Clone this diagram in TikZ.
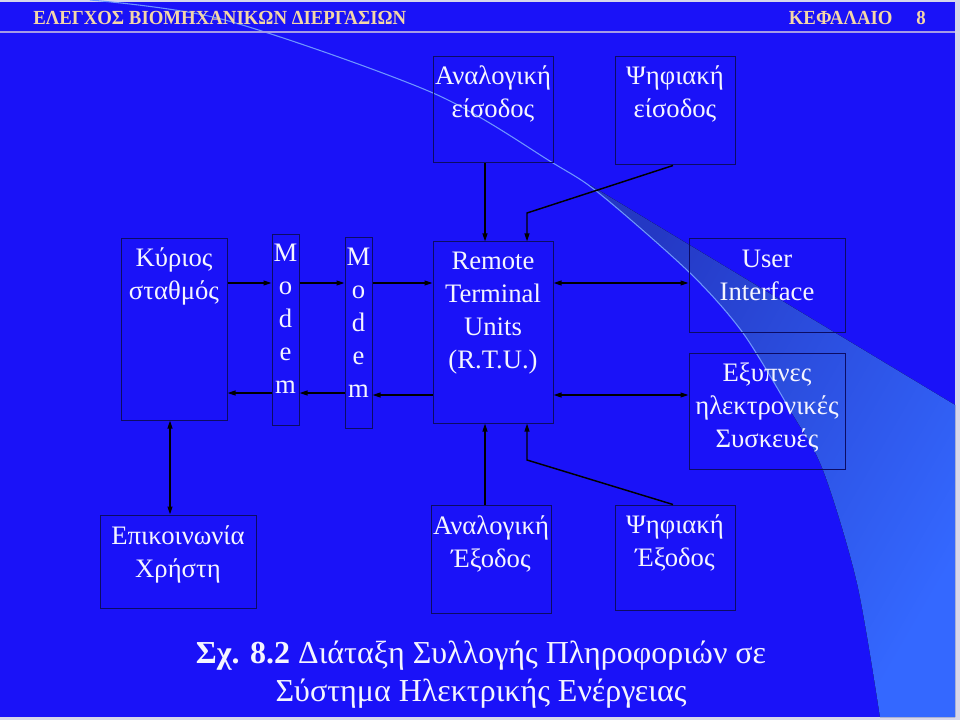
\documentclass[tikz,border=0pt]{standalone}
\usepackage{fontspec}
\setmainfont{Liberation Serif}
\usepackage{graphicx}
\usetikzlibrary{fit,arrows.meta,calc}
\definecolor{bg}{RGB}{26,18,248}
\definecolor{sw}{RGB}{52,104,255}
\definecolor{swd}{RGB}{36,56,196}
\definecolor{swline}{RGB}{110,150,255}
\definecolor{hdr}{RGB}{244,214,168}
\definecolor{hline}{RGB}{165,155,230}
\definecolor{bord}{RGB}{12,12,100}
\definecolor{txt}{RGB}{245,245,255}
\definecolor{frm}{RGB}{215,215,235}
\begin{document}
\begin{tikzpicture}[x=0.75pt,y=-0.75pt,
  box/.style={draw=bord,line width=0.75pt,inner sep=0pt},
  lbl/.style={text=txt,font=\fontsize{20}{24.8}\selectfont,align=center,anchor=north,inner sep=0pt},
  arr/.style={line width=1.1pt,black,-{Triangle[length=6pt,width=3.6pt]}},
  darr/.style={line width=1.1pt,black,{Triangle[length=6pt,width=3.6pt]}-{Triangle[length=6pt,width=3.6pt]}},
  hdrtxt/.style={text=hdr,font=\fontsize{15}{17}\selectfont\bfseries,inner sep=0pt},
  captxt/.style={text=txt,font=\fontsize{24}{28.8}\selectfont,inner sep=0pt,anchor=base}]
\useasboundingbox (0,0) rectangle (960,720);
% background
\fill[frm] (0,0) rectangle (960,720);
\fill[bg] (0,2) rectangle (955,717);
% swoosh
\fill[left color=swd,right color=sw,shading angle=60] (590,185) -- (955,405) -- (955,717) -- plot[smooth] coordinates {(880,717) (857,583) (823,470) (790,410) (743,333) (690,273) (590,185)} -- cycle;
\draw[swline,line width=0.8pt] plot[smooth] coordinates {(90,0) (225,20) (433,93) (553,163) (600,194) (690,273) (743,333) (790,410)};
% header
\draw[hline,line width=1.5pt] (0,32) -- (955,32);
\node[hdrtxt,anchor=base west] (h1) at (33,25) {\scalebox{0.94}[1]{ΕΛΕΓΧΟΣ ΒΙΟΜΗΧΑΝΙΚΩΝ ΔΙΕΡΓΑΣΙΩΝ}};
\node[hdrtxt,anchor=base east] (h2) at (926,25) {\scalebox{0.94}[1]{ΚΕΦΑΛΑΙΟ\hspace{19pt}8}};
% helper coordinates
\coordinate (r1) at (0,283);
\coordinate (r2) at (0,393);
\coordinate (r3) at (0,395);
\coordinate (cA) at (485,0);
\coordinate (cB) at (527,0);
\coordinate (cD) at (673,0);
\coordinate (cK) at (170,0);
% boxes
\node[box,fit={(433,57) (553,163)}] (ain) {};
\node[box,fit={(615,57) (735,165)}] (din) {};
\node[box,fit={(121,239) (227,420)}] (kyr) {};
\node[box,fit={(272,235) (299,425)}] (mod1) {};
\node[box,fit={(345,238) (372,428)}] (mod2) {};
\node[box,fit={(433,242) (553,423)}] (rtu) {};
\node[box,fit={(689,239) (845,332)}] (ui) {};
\node[box,fit={(689,353) (845,469)}] (smart) {};
\node[box,fit={(100,515) (256,608)}] (user) {};
\node[box,fit={(431,505) (551,613)}] (aout) {};
\node[box,fit={(615,505) (735,610)}] (dout) {};
% labels
\node[lbl] (ainT) at ($(ain.north)+(0,9)$) {Αναλογική\\είσοδος};
\node[lbl] (dinT) at ($(din.north)+(0,9)$) {Ψηφιακή\\είσοδος};
\node[lbl] (kyrT) at ($(kyr.north)+(0,9)$) {Κύριος\\σταθμός};
\node[lbl] (mod1T) at ($(mod1.north)+(0,9)$) {M\\o\\d\\e\\m};
\node[lbl] (mod2T) at ($(mod2.north)+(0,10)$) {M\\o\\d\\e\\m};
\node[lbl] (rtuT) at ($(rtu.north)+(0,10)$) {Remote\\Terminal\\Units\\(R.T.U.)};
\node[lbl] (uiT) at ($(ui.north)+(0,11)$) {User\\Interface};
\node[lbl] (smartT) at ($(smart.north)+(0,10)$) {Εξυπνες\\ηλεκτρονικές\\Συσκευές};
\node[lbl] (userT) at ($(user.north)+(0,11)$) {Επικοινωνία\\Χρήστη};
\node[lbl] (aoutT) at ($(aout.north)+(0,11)$) {Αναλογική\\Έξοδος};
\node[lbl] (doutT) at ($(dout.north)+(0,10)$) {Ψηφιακή\\Έξοδος};
% connectors
\draw[arr] (kyr.east |- r1) -- (mod1.west |- r1);
\draw[arr] (mod1.east |- r1) -- (mod2.west |- r1);
\draw[arr] (mod2.east |- r1) -- (rtu.west |- r1);
\draw[arr] (rtu.west |- r3) -- (mod2.east |- r3);
\draw[arr] (mod2.west |- r2) -- (mod1.east |- r2);
\draw[arr] (mod1.west |- r2) -- (kyr.east |- r2);
\draw[arr] (ain.south -| cA) -- (rtu.north -| cA);
\coordinate (b1) at (527,213);
\draw[arr] (din.south -| cD) -- (b1) -- (rtu.north -| cB);
\draw[darr] (rtu.east |- r1) -- (ui.west |- r1);
\draw[darr] (rtu.east |- r3) -- (smart.west |- r3);
\draw[darr] (kyr.south -| cK) -- (user.north -| cK);
\draw[arr] (aout.north -| cA) -- (rtu.south -| cA);
\coordinate (b2) at (527,460);
\draw[arr] (dout.north -| cD) -- (b2) -- (rtu.south -| cB);
% caption
\node[captxt] (cap1) at (481,663) {\textbf{Σχ. 8.2} Διάταξη Συλλογής Πληροφοριών σε};
\node[captxt] (cap2) at (481,701) {Σύστημα Ηλεκτρικής Ενέργειας};
\end{tikzpicture}
\end{document}
